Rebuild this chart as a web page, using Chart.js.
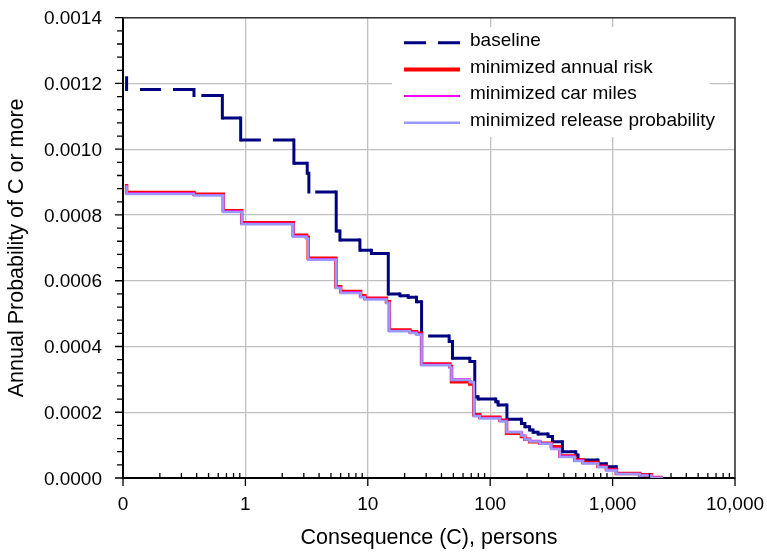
<!DOCTYPE html>
<html>
<head>
<meta charset="utf-8">
<script src="https://cdn.jsdelivr.net/npm/chart.js@4.4.1/dist/chart.umd.min.js"></script>
<style>
  html, body { margin: 0; padding: 0; background: #fff; }
  #wrap { width: 767px; height: 552px; }
</style>
</head>
<body>
<div id="wrap"><canvas id="risk" width="767" height="552"></canvas></div>
<script>
// consequence (persons) at which each exceedance curve steps, and the level after the step
var stepsBaseline = [0.107, 0.107, 0.38, 0.648, 0.915, 2.49, 3.2, 3.3, 5.52, 5.92,
    8.62, 10.7, 14.7, 18.3, 21.4, 25, 27.5, 46.2, 49.2, 68.2,
    74.8, 79.6, 111, 116, 137, 180, 192, 210, 224, 246,
    297, 323, 389, 500, 522, 760, 890, 1074, 1663, 2075, 2565];
var probBaseline = [0.001217, 0.001182, 0.001163, 0.001095, 0.001028, 0.000957, 0.000927, 0.00087, 0.000751, 0.000724,
    0.000693, 0.000683, 0.00056, 0.000554, 0.00055, 0.000536, 0.000432, 0.000415, 0.000364, 0.000354,
    0.000247, 0.00024, 0.000232, 0.000222, 0.000179, 0.000166, 0.000156, 0.000146, 0.000139, 0.000134,
    0.000126, 0.00011, 0.00008, 0.00007, 0.000055, 0.000043, 0.000034, 0.000014, 0.000009, 0.0000015, 0.0000015];

var stepsMinimized = [0.107, 0.107, 0.38, 0.66, 0.933, 2.46, 3.16, 3.26, 5.49, 6.0,
    8.73, 9.47, 14.2, 15.0, 22.1, 25.0, 27.5, 46.8, 48.3, 68.2,
    73.5, 82.2, 120, 136, 180, 192, 210, 254, 316, 370,
    490, 573, 760, 890, 1074, 1663, 2075, 2565];
var probAnnualRisk = [0.000894, 0.000868, 0.000863, 0.000813, 0.000776, 0.000738, 0.000732, 0.000668, 0.000582, 0.000567,
    0.000554, 0.000547, 0.000536, 0.00045, 0.000445, 0.00044, 0.000347, 0.000339, 0.000293, 0.000286,
    0.000192, 0.000185, 0.000176, 0.000136, 0.000126, 0.000118, 0.00011, 0.000106, 0.000095, 0.000067,
    0.000055, 0.000047, 0.000036, 0.000026, 0.0000137, 0.0000091, 0.0000015, 0.0000015];
var probCarMiles = [0.000892, 0.000866, 0.000861, 0.000811, 0.000774, 0.000736, 0.00073, 0.000666, 0.00058, 0.000565,
    0.000552, 0.000545, 0.000534, 0.000448, 0.000443, 0.000438, 0.000345, 0.000337, 0.0003, 0.000293,
    0.00019, 0.000183, 0.000174, 0.000141, 0.000131, 0.000119, 0.000113, 0.000106, 0.00009, 0.000066,
    0.000054, 0.000046, 0.000035, 0.000025, 0.0000132, 0.0000086, 0.000001, 0.000001];
var probRelease = [0.00089, 0.000864, 0.000859, 0.000809, 0.000772, 0.000734, 0.000728, 0.000664, 0.000578, 0.000563,
    0.00055, 0.000543, 0.000532, 0.000446, 0.000441, 0.000436, 0.000343, 0.000335, 0.000298, 0.000291,
    0.000188, 0.000181, 0.000172, 0.000139, 0.000129, 0.000117, 0.000111, 0.000104, 0.000088, 0.000064,
    0.000052, 0.000044, 0.000033, 0.000023, 0.000012, 0.0000078, 0.0000008, 0.0000008];

var xTicks = [0.1, 1, 10, 100, 1000, 10000];
var xTickLabels = ['0', '1', '10', '100', '1,000', '10,000'];
var seriesNames = ['baseline', 'minimized annual risk', 'minimized car miles', 'minimized release probability'];

Chart.defaults.font.family = '"Liberation Sans", Arial, sans-serif';
Chart.defaults.color = '#000';

// corner points of a staircase: vertical drop at each step, flat in between
function staircase(steps, probs) {
    var pts = [];
    for (var i = 0; i < steps.length; i++) {
        if (i > 0) addPoint(pts, steps[i], probs[i - 1]);
        addPoint(pts, steps[i], probs[i]);
    }
    return pts;
}
function addPoint(pts, x, y) {
    var last = pts[pts.length - 1];
    if (last && last.x === x && last.y === y) return;
    pts.push({x: x, y: y});
}
function isVertical(c) {
    return Math.abs(c.p0.x - c.p1.x) < 0.5;
}

var DASH = [21, 12];
var legendWidths = [3, 4, 2, 2.5];

// each flat run of the baseline ends on a full dash at its corner, like the original
function dashPhase(c) {
    if (isVertical(c)) return 0;
    var period = DASH[0] + DASH[1];
    var len = Math.abs(c.p1.x - c.p0.x);
    return ((DASH[0] - len) % period + period) % period;
}

// tick marks, plot frame and the boxed legend inside the plot
var frameAndLegend = {
    id: 'frameAndLegend',
    afterDraw: function(chart) {
        var ctx = chart.ctx, a = chart.chartArea;
        var xs = chart.scales.x, ys = chart.scales.y;
        ctx.save();
        ctx.strokeStyle = '#000';
        ctx.lineWidth = 1.3;
        ctx.beginPath();
        xTicks.forEach(function(v, i) {
            var px = xs.getPixelForValue(v);
            ctx.moveTo(px, a.bottom);
            ctx.lineTo(px, a.bottom + 8);
            if (i < xTicks.length - 1) {
                for (var m = 2; m < 10; m++) {
                    var mx = xs.getPixelForValue(v * m);
                    ctx.moveTo(mx, a.bottom);
                    ctx.lineTo(mx, a.bottom - 5);
                }
            }
        });
        for (var k = 0; k <= 35; k++) {
            var py = ys.getPixelForValue(k * 0.00004);
            ctx.moveTo(a.left - (k % 5 === 0 ? 8 : 6), py);
            ctx.lineTo(a.left, py);
        }
        ctx.stroke();

        ctx.strokeStyle = '#333';
        ctx.lineWidth = 1.5;
        ctx.beginPath();
        ctx.moveTo(a.left, a.top);
        ctx.lineTo(a.right, a.top);
        ctx.lineTo(a.right, a.bottom);
        ctx.stroke();

        // legend
        ctx.fillStyle = '#fff';
        ctx.fillRect(392, 27, 318, 110);
        ctx.font = '19px "Liberation Sans", Arial, sans-serif';
        ctx.textBaseline = 'middle';
        chart.data.datasets.forEach(function(ds, i) {
            var ly = 42.7 + i * 26.7;
            ctx.beginPath();
            ctx.setLineDash(i === 0 ? [22, 12] : []);
            ctx.strokeStyle = ds.borderColor;
            ctx.lineWidth = legendWidths[i];
            ctx.moveTo(404, ly);
            ctx.lineTo(460, ly);
            ctx.stroke();
            ctx.setLineDash([]);
            ctx.fillStyle = '#000';
            ctx.fillText(ds.label, 470, ly - 2);
        });
        ctx.restore();
    }
};

new Chart(document.getElementById('risk'), {
    type: 'line',
    data: {
        datasets: [
            {
                label: seriesNames[0],
                data: staircase(stepsBaseline, probBaseline),
                borderColor: '#000080',
                borderWidth: 3,
                order: 4,
                segment: {
                    borderDash: function(c) { return isVertical(c) ? [] : DASH; },
                    borderDashOffset: dashPhase,
                    borderCapStyle: function(c) { return isVertical(c) ? 'square' : 'butt'; }
                }
            },
            {
                label: seriesNames[1],
                data: staircase(stepsMinimized, probAnnualRisk),
                borderColor: '#ff0000',
                borderWidth: 3.5,
                order: 3
            },
            {
                label: seriesNames[2],
                data: staircase(stepsMinimized, probCarMiles),
                borderColor: '#ff00ff',
                borderWidth: 2,
                order: 2
            },
            {
                label: seriesNames[3],
                data: staircase(stepsMinimized, probRelease),
                borderColor: '#9999ff',
                borderWidth: 2.5,
                order: 1
            }
        ]
    },
    options: {
        responsive: false,
        animation: false,
        events: [],
        layout: { padding: { left: 0, right: 32, top: 17.7, bottom: 0 } },
        elements: { point: { radius: 0 }, line: { tension: 0 } },
        plugins: { legend: { display: false }, tooltip: { enabled: false } },
        scales: {
            x: {
                type: 'logarithmic',
                min: 0.1,
                max: 10000,
                afterBuildTicks: function(s) { s.ticks = xTicks.map(function(v) { return {value: v}; }); },
                afterFit: function(s) { s.height = 74; s.paddingLeft = 0; s.paddingRight = 0; },
                ticks: {
                    autoSkip: false, maxRotation: 0, padding: 15,
                    font: { size: 19 },
                    callback: function(v, i) { return xTickLabels[i]; }
                },
                grid: { color: '#c0c0c0', lineWidth: 1.3, drawTicks: false },
                border: { color: '#000', width: 2 },
                title: {
                    display: true, text: 'Consequence (C), persons',
                    font: { size: 21.5 }, padding: { top: 0, bottom: 1 }
                }
            },
            y: {
                min: 0,
                max: 0.0014,
                afterFit: function(s) { s.width = 123; s.paddingTop = 0; s.paddingBottom = 0; },
                ticks: {
                    stepSize: 0.0002, autoSkip: false, padding: 21, labelOffset: 1.5,
                    font: { size: 19 },
                    callback: function(v) { return v.toFixed(4); }
                },
                grid: { color: '#c0c0c0', lineWidth: 1.3, drawTicks: false },
                border: { color: '#000', width: 2 },
                title: {
                    display: true, text: 'Annual Probability of C or more',
                    font: { size: 21.5 }, padding: { top: 4, bottom: 0 }
                }
            }
        }
    },
    plugins: [frameAndLegend]
});
</script>
</body>
</html>
